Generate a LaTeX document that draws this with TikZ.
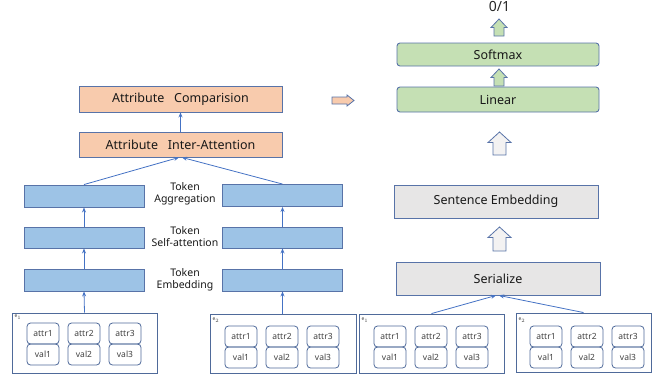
\documentclass[tikz,border=0pt]{standalone}
\usepackage{fontspec}
\setmainfont{Noto Sans}
\usetikzlibrary{arrows.meta}
\definecolor{peach}{HTML}{F8CBAD}
\definecolor{tokblue}{HTML}{9DC3E6}
\definecolor{lgreen}{HTML}{C5E0B4}
\definecolor{lgray}{HTML}{E7E6E6}
\definecolor{bord}{HTML}{5873A8}
\definecolor{conn}{HTML}{4472C4}
\definecolor{ebord}{HTML}{4F6A9A}
\tikzset{
  box/.style={draw=bord, line width=0.9pt, inner sep=0pt, font=\fontsize{12.5}{14}\selectfont, text=black!90},
  peachbox/.style={box, fill=peach},
  tokbox/.style={box, fill=tokblue, minimum width=120pt, minimum height=22pt},
  greenbox/.style={box, fill=lgreen, rounded corners=3pt, minimum width=202pt},
  graybox/.style={box, fill=lgray, minimum width=204pt, minimum height=33pt},
  lbl/.style={inner sep=0pt, align=center, font=\fontsize{10.5}{12}\selectfont, text=black!90},
  ebox/.style={draw=ebord, line width=0.9pt, inner sep=0pt, minimum height=59pt},
  kv/.style={draw=ebord, line width=0.8pt, rounded corners=3.5pt, inner sep=0pt, minimum width=32pt, minimum height=21pt, font=\fontsize{8.5}{9}\selectfont, text=black!75},
  elbl/.style={inner sep=0pt, font=\fontsize{5}{6}\selectfont, text=black!75},
  conarrow/.style={draw=conn, line width=0.8pt, -{Stealth[length=5pt,width=4pt]}},
  hollowarr/.style={draw=bord, line width=0.8pt, fill=lgray!50, line join=miter},
  greenarr/.style={draw=bord, line width=0.8pt, fill=lgreen, line join=miter},
  peacharr/.style={draw=bord, line width=0.8pt, fill=peach, line join=miter},
}
% #1 centre x, #2 tip y, #3 bottom y, #4 half total width, #5 half shaft width, #6 head base y, #7 style
\newcommand\upblock[7]{%
  \draw[#7] (#1,#2) -- (#1+#4,#6) -- (#1+#5,#6) -- (#1+#5,#3) -- (#1-#5,#3) -- (#1-#5,#6) -- (#1-#4,#6) -- cycle;}
\begin{document}
\begin{tikzpicture}[x=1pt,y=-1pt]
\useasboundingbox (0,0) rectangle (652,378);
% left column
\node[peachbox, minimum width=203pt, minimum height=26pt] (comp) at (180.5,99) {Attribute\ \ \ Comparision};
\node[peachbox, minimum width=203pt, minimum height=25pt] (inter) at (180.5,144.5) {Attribute\ \ \ Inter-Attention};
\node[tokbox] (aggL) at (84,196) {};
\node[tokbox] (aggR) at (282.5,195.5) {};
\node[tokbox, minimum height=21pt] (selfL) at (84,237.5) {};
\node[tokbox, minimum height=21pt] (selfR) at (282.5,237.5) {};
\node[tokbox] (embL) at (84,280) {};
\node[tokbox] (embR) at (282.5,280) {};
\node[lbl] (tagg) at (185,194) {Token\\Aggregation};
\node[lbl] (tself) at (185,237) {Token\\Self-attention};
\node[lbl] (temb) at (185,280) {Token\\Embedding};
% entity boxes
\node[ebox, minimum width=145pt, minimum height=60pt] (eL1) at (84.5,343) {};
\node[ebox, minimum width=146pt] (eL2) at (283,343.5) {};
\node[ebox, minimum width=145pt] (eR1) at (431.5,343.5) {};
\node[ebox, minimum width=135pt] (eR2) at (583.5,342.5) {};
\node[elbl] (eL1l) at (18,317) {e$_1$};
\node[elbl] (eL2l) at (216,320) {e$_2$};
\node[elbl] (eR1l) at (365,320) {e$_1$};
\node[elbl] (eR2l) at (522,320) {e$_2$};
\foreach \nm/\x/\y in {a/43/333.5, b/241/336.5, c/390/336.5, d/546/336.5}{
  \foreach \i in {1,2,3}{
    \node[kv] (\nm attr\i) at ({\x+41*(\i-1)},\y) {attr\i};
    \node[kv] (\nm val\i) at ({\x+41*(\i-1)},\y+21) {val\i};
  }
}
% connectors left
\draw[conarrow] (eL1.north) -- (embL.south);
\draw[conarrow] (embL.north) -- (selfL.south);
\draw[conarrow] (selfL.north) -- (aggL.south);
\draw[conarrow] (eL2.north -| embR) -- (embR.south);
\draw[conarrow] (embR.north) -- (selfR.south);
\draw[conarrow] (selfR.north) -- (aggR.south);
\draw[conarrow] (aggL.north) -- ([xshift=-1.5pt]inter.south);
\draw[conarrow] (aggR.north) -- ([xshift=1.5pt]inter.south);
\draw[conarrow] (inter.north) -- (comp.south);
% middle arrow
\draw[peacharr] (354,100.5) -- (347,95) -- (347,97) -- (332,97) -- (332,104) -- (347,104) -- (347,106) -- cycle;
% right column
\node[graybox] (ser) at (498,278.5) {Serialize};
\node[graybox] (sent) at (496,201.5) {Sentence Embedding};
\node[greenbox, minimum height=25pt] (lin) at (498,99.5) {Linear};
\node[greenbox, minimum height=23pt] (soft) at (498,54.5) {Softmax};
\node[inner sep=0pt, font=\fontsize{14}{16}\bfseries\selectfont, text=black!85] (out) at (499.5,6) {0/1};
\upblock{499.5}{227}{251}{11.5}{6.5}{237.5}{hollowarr}
\upblock{499.5}{132}{155}{11.5}{6.5}{142.5}{hollowarr}
\upblock{499}{69}{86}{8}{5}{77.5}{greenarr}
\upblock{499}{19}{36}{8}{5}{27.5}{greenarr}
\draw[conarrow] (eR1.north) -- ([xshift=-2pt]ser.south);
\draw[conarrow] (eR2.north) -- ([xshift=1pt]ser.south);
\end{tikzpicture}
\end{document}
